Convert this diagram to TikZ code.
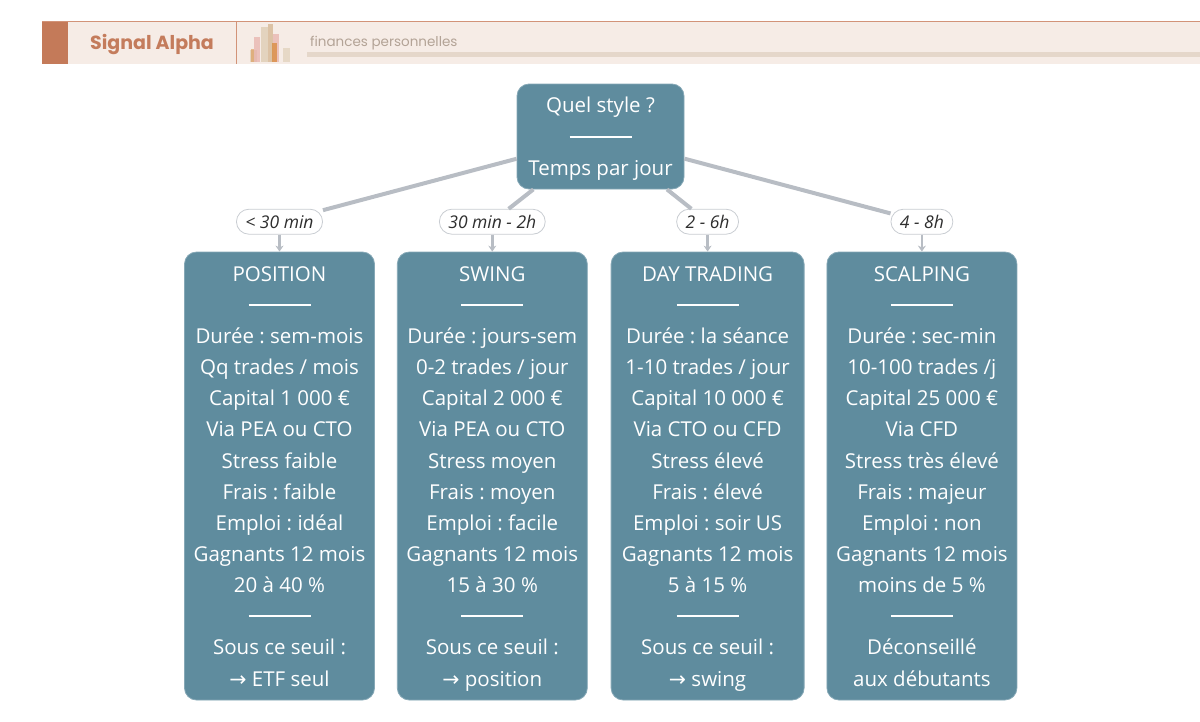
\documentclass[tikz,border=0pt]{standalone}
\usepackage{fontspec}
\setmainfont{Open Sans}
\newfontfamily\headfont{Poppins}
\newfontfamily\arrowfont{DejaVu Sans}
\usetikzlibrary{positioning,arrows.meta}
\definecolor{boxfill}{HTML}{5F8C9E}
\definecolor{boxdraw}{HTML}{86A8B6}
\definecolor{edgegray}{HTML}{B8BDC4}
\definecolor{labeldraw}{HTML}{C9CDD2}
\definecolor{labeltext}{HTML}{2E2E2E}
\definecolor{headbg}{HTML}{F6ECE6}
\definecolor{headline}{HTML}{D29378}
\definecolor{accent}{HTML}{C47A59}
\definecolor{brand}{HTML}{C47C5C}
\definecolor{subtle}{HTML}{B3A396}
\definecolor{underbar}{HTML}{E5D7CA}
\definecolor{barbeige}{HTML}{E3D3BE}
\definecolor{barpink}{HTML}{E7AFAA}
\definecolor{barorange}{HTML}{D98A3C}
\newcommand{\sepline}{\rule[6.5pt]{62pt}{2pt}}
\newcommand{\toarrow}{{\arrowfont →}}
\newcommand{\topstrut}{\rule{0pt}{24.5pt}}
\frenchspacing

\begin{document}
\begin{tikzpicture}[x=1pt,y=-1pt,
  stylebox/.style={draw=boxdraw,line width=0.8pt,fill=boxfill,rounded corners=12pt,
    text=white,align=center,inner xsep=3pt,font=\fontsize{20.5}{31.15}\selectfont},
  timelabel/.style={draw=labeldraw,line width=0.8pt,fill=white,rounded corners=12.5pt,
    text=labeltext,minimum height=25pt,inner xsep=9pt,font=\fontsize{17.5}{17.5}\selectfont\itshape},
  link/.style={draw=edgegray,line width=4pt},
  linkarrow/.style={draw=edgegray,line width=2.5pt,-{Stealth[length=6pt,width=8pt]}}]
\useasboundingbox (0,0) rectangle (1200,721);
\fill[headbg] (42,22) rectangle (1200,64);
\fill[accent] (42,22) rectangle (68,64);
\draw[headline,line width=1.5pt] (42,21.5) -- (1200,21.5);
\draw[headline,line width=1pt] (236,22) -- (236,64);
\node[text=brand,font=\headfont\bfseries\fontsize{19}{19}\selectfont] (brand) at (152,44.5) {Signal Alpha};
\fill[underbar] (307,52) rectangle (1200,57);
\node[anchor=west,inner sep=0pt,text=subtle,font=\headfont\fontsize{13.5}{13.5}\selectfont] (tagline) at (310,43.5) {finances personnelles};
\fill[barbeige,opacity=0.9] (250,50) rectangle (257,62);
\fill[barorange,opacity=0.5] (251,49) rectangle (254,62);
\fill[barpink,opacity=0.7] (254,37) rectangle (260,62);
\fill[barbeige] (261,27) rectangle (268,62);
\fill[barbeige!80!brown] (268,24) rectangle (273,62);
\fill[barpink,opacity=0.7] (273,34) rectangle (279,62);
\fill[barorange,opacity=0.75] (272,43) rectangle (277,62);
\fill[barbeige,opacity=0.8] (283,48) rectangle (290,62);

\node[stylebox,minimum width=167pt,minimum height=105pt] (style) at (600.5,136.5)
  {\topstrut Quel style ?\\\sepline\\Temps par jour\strut};

\node[stylebox,minimum width=190pt,minimum height=448pt] (position) at (279.5,476)
  {\topstrut POSITION\\\sepline\\Durée : sem-mois\\Qq trades / mois\\Capital 1 000 €\\Via PEA ou CTO\\Stress faible\\Frais : faible\\Emploi : idéal\\Gagnants 12 mois\\20 à 40 \%\\\sepline\\Sous ce seuil :\\\toarrow{} ETF seul\strut};
\node[stylebox,minimum width=190pt,minimum height=448pt,right=22pt of position] (swing)
  {\topstrut SWING\\\sepline\\Durée : jours-sem\\0-2 trades / jour\\Capital 2 000 €\\Via PEA ou CTO\\Stress moyen\\Frais : moyen\\Emploi : facile\\Gagnants 12 mois\\15 à 30 \%\\\sepline\\Sous ce seuil :\\\toarrow{} position\strut};
\node[stylebox,minimum width=193pt,minimum height=448pt,right=23pt of swing] (daytrading)
  {\topstrut DAY TRADING\\\sepline\\Durée : la séance\\1-10 trades / jour\\Capital 10 000 €\\Via CTO ou CFD\\Stress élevé\\Frais : élevé\\Emploi : soir US\\Gagnants 12 mois\\5 à 15 \%\\\sepline\\Sous ce seuil :\\\toarrow{} swing\strut};
\node[stylebox,minimum width=190pt,minimum height=448pt,right=22pt of daytrading] (scalping)
  {\topstrut SCALPING\\\sepline\\Durée : sec-min\\10-100 trades /j\\Capital 25 000 €\\Via CFD\\Stress très élevé\\Frais : majeur\\Emploi : non\\Gagnants 12 mois\\moins de 5 \%\\\sepline\\Déconseillé\\aux débutants\strut};

\node[timelabel,above=17pt of position] (short) {< 30 min};
\node[timelabel,above=17pt of swing] (medium) {30 min - 2h};
\node[timelabel,above=17pt of daytrading] (long) {2 - 6h};
\node[timelabel,above=17pt of scalping] (full) {4 - 8h};

\draw[link] (style) -- (short);
\draw[link] (style) -- (medium);
\draw[link] (style) -- (long);
\draw[link] (style) -- (full);
\draw[linkarrow] (short) -- (position);
\draw[linkarrow] (medium) -- (swing);
\draw[linkarrow] (long) -- (daytrading);
\draw[linkarrow] (full) -- (scalping);
\end{tikzpicture}
\end{document}
